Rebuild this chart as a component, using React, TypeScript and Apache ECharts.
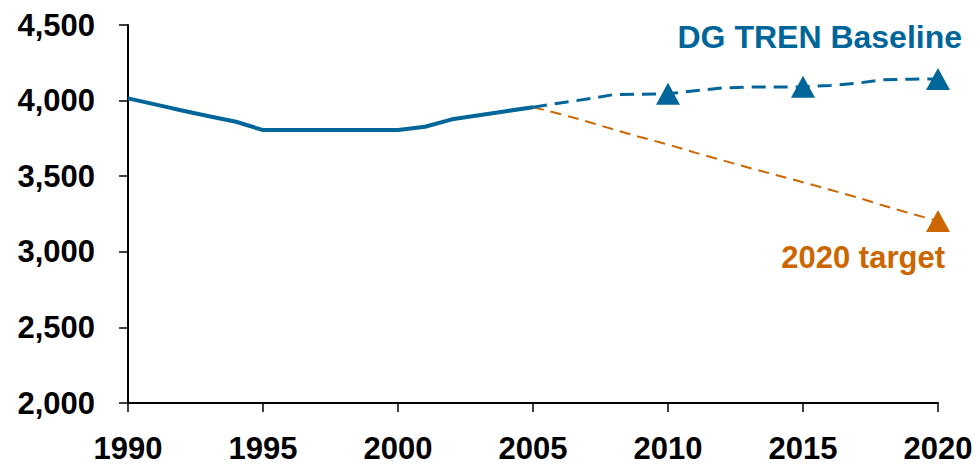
import React, { useEffect, useRef } from "react";
import * as echarts from "echarts";

const histYears = [1990, 1991, 1992, 1993, 1994, 1995, 1996, 1997, 1998, 1999, 2000, 2001, 2002, 2003, 2004, 2005];
const histValues = [4015, 3975, 3935, 3897, 3860, 3805, 3805, 3805, 3805, 3805, 3805, 3827, 3876, 3903, 3930, 3956];

const projYears = [2005, 2006, 2007, 2008, 2009, 2010, 2011, 2012, 2013, 2014, 2015, 2016, 2017, 2018, 2019, 2020];
const baselineValues = [3956, 3984, 4010, 4040, 4042, 4045, 4065, 4083, 4090, 4090, 4091, 4100, 4115, 4138, 4142, 4143];
const targetValues = [3956, 3912, 3862, 3808, 3757, 3710, 3656, 3606, 3556, 3508, 3460, 3410, 3360, 3305, 3252, 3204];

const baselineMarkerYears = [2010, 2015, 2020];
const targetMarkerYears = [2020];

const yTicks = [2000, 2500, 3000, 3500, 4000, 4500];
const xTicks = [1990, 1995, 2000, 2005, 2010, 2015, 2020];

const baselineLabel = "DG TREN Baseline";
const targetLabel = "2020 target";

const BLUE = "#006699";
const ORANGE = "#CC6600";
const FONT = "'Liberation Sans', Arial, sans-serif";

function pairs(xs: number[], ys: number[]) {
  return xs.map((x, i) => [x, ys[i]]);
}

function pick(xs: number[], ys: number[], sel: number[]) {
  return sel.map((y) => [y, ys[xs.indexOf(y)]]);
}

export default function App() {
  const ref = useRef<HTMLDivElement>(null);
  useEffect(() => {
    if (!ref.current) return;
    const chart = echarts.init(ref.current, null, { renderer: "svg" });
    chart.setOption({
      animation: false,
      backgroundColor: "#ffffff",
      grid: { left: 128, right: 42, top: 25, bottom: 62, containLabel: false },
      xAxis: {
        type: "value",
        min: xTicks[0],
        max: xTicks[xTicks.length - 1],
        interval: 5,
        splitLine: { show: false },
        axisLine: { show: true, onZero: false, lineStyle: { color: "#000", width: 2 } },
        axisTick: { show: true, length: 9, lineStyle: { color: "#000", width: 1.5 } },
        axisLabel: {
          color: "#000",
          fontSize: 31,
          fontWeight: "bold",
          fontFamily: FONT,
          margin: 30,
          formatter: (v: number) => String(v),
        },
      },
      yAxis: {
        type: "value",
        min: yTicks[0],
        max: yTicks[yTicks.length - 1],
        interval: 500,
        splitLine: { show: false },
        axisLine: { show: true, onZero: false, lineStyle: { color: "#000", width: 2 } },
        axisTick: { show: true, length: 9, lineStyle: { color: "#000", width: 1.5 } },
        axisLabel: {
          color: "#000",
          fontSize: 31,
          fontWeight: "bold",
          fontFamily: FONT,
          margin: 33,
          formatter: (v: number) => v.toLocaleString("en-US"),
        },
      },
      series: [
        {
          type: "line",
          data: pairs(projYears, targetValues),
          symbol: "none",
          lineStyle: { color: ORANGE, width: 2, type: [11, 7] },
          z: 2,
        },
        {
          type: "line",
          data: pairs(projYears, baselineValues),
          symbol: "none",
          lineStyle: { color: BLUE, width: 3, type: [14, 8] },
          z: 3,
        },
        {
          type: "line",
          data: pairs(histYears, histValues),
          symbol: "none",
          lineStyle: { color: BLUE, width: 4 },
          z: 4,
        },
        {
          type: "scatter",
          data: pick(projYears, baselineValues, baselineMarkerYears),
          symbol: "triangle",
          symbolSize: [24, 22],
          itemStyle: { color: BLUE, opacity: 1 },
          z: 5,
        },
        {
          type: "scatter",
          data: pick(projYears, targetValues, targetMarkerYears),
          symbol: "triangle",
          symbolSize: [24, 22],
          itemStyle: { color: ORANGE, opacity: 1 },
          z: 5,
        },
      ],
      graphic: [
        {
          type: "text",
          right: 18,
          top: 21,
          style: {
            text: baselineLabel,
            fill: BLUE,
            font: `bold 32px ${FONT}`,
          },
        },
        {
          type: "text",
          right: 35,
          top: 242,
          style: {
            text: targetLabel,
            fill: ORANGE,
            font: `bold 31px ${FONT}`,
          },
        },
      ],
    });
    return () => chart.dispose();
  }, []);
  return (
    <div
      ref={ref}
      style={{ position: "fixed", left: 0, top: 0, width: 980, height: 465, background: "#fff" }}
    />
  );
}
